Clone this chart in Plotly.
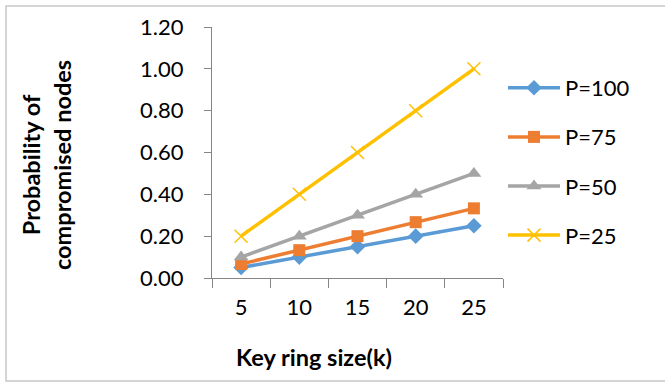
import plotly.graph_objects as go

# Key ring sizes and probability of compromised nodes per P value
key_ring = ["5", "10", "15", "20", "25"]
p100 = [0.05, 0.10, 0.15, 0.20, 0.25]
p75 = [0.067, 0.133, 0.20, 0.267, 0.333]
p50 = [0.10, 0.20, 0.30, 0.40, 0.50]
p25 = [0.20, 0.40, 0.60, 0.80, 1.00]
y_ticks = [0.0, 0.2, 0.4, 0.6, 0.8, 1.0, 1.2]
y_tick_text = ["0.00", "0.20", "0.40", "0.60", "0.80", "1.00", "1.20"]

W, H = 665, 383
ML, MR, MT, MB = 212, 162, 27, 105
PW, PH = W - ML - MR, H - MT - MB

series = [
    ("P=100", p100, "#5B9BD5", "diamond", 12, 0),
    ("P=75", p75, "#ED7D31", "square", 12, 0),
    ("P=50", p50, "#A5A5A5", "triangle-up", 13, 0),
    ("P=25", p25, "#FFC000", "x-thin", 13, 1.5),
]

fig = go.Figure()
for i, (name, vals, color, sym, size, mlw) in enumerate(series):
    fig.add_trace(go.Scatter(
        x=key_ring, y=vals, name=name, mode="lines+markers",
        line=dict(color=color, width=3.5),
        marker=dict(symbol=sym, size=size, color=color,
                    line=dict(color=color, width=mlw)),
        legendgroup=f"g{i}",
    ))

axis_col = "#868686"
font_family = "Lato, Open Sans, sans-serif"

fig.update_layout(
    width=W, height=H,
    margin=dict(l=ML, r=MR, t=MT, b=MB),
    paper_bgcolor="white", plot_bgcolor="white",
    font=dict(family=font_family, color="black"),
    showlegend=True,
    legend=dict(
        x=(503 - ML) / PW, y=(H - 67 - MB) / PH, xanchor="left", yanchor="top",
        font=dict(size=22, family=font_family, color="black"),
        tracegroupgap=17.5, itemwidth=52, bgcolor="rgba(0,0,0,0)",
    ),
    xaxis=dict(
        type="category", showgrid=False, zeroline=False,
        showline=True, linecolor=axis_col, linewidth=1,
        ticks="outside", tickson="boundaries", ticklen=9, tickcolor=axis_col,
        tickfont=dict(size=22, family=font_family), ticklabelstandoff=10,
        range=[-0.5, 4.5],
    ),
    yaxis=dict(
        range=[0, 1.2], tickvals=y_ticks, ticktext=y_tick_text,
        showgrid=False, zeroline=False,
        showline=True, linecolor=axis_col, linewidth=1,
        ticks="outside", ticklen=7, tickcolor=axis_col,
        tickfont=dict(size=22, family=font_family), ticklabelstandoff=16,
    ),
    annotations=[
        dict(text="<b>Probability of<br>compromised nodes</b>", textangle=-90,
             xref="paper", yref="paper",
             x=(46 - ML) / PW, y=(H - MB - 165) / PH,
             xanchor="center", yanchor="middle", showarrow=False,
             font=dict(size=23.5, family=font_family, color="black")),
        dict(text="<b>Key ring size(k)</b>",
             xref="paper", yref="paper",
             x=(314 - ML) / PW, y=-(357 - (H - MB)) / PH,
             xanchor="center", yanchor="middle", showarrow=False,
             font=dict(size=23.5, family=font_family, color="black")),
    ],
    shapes=[
        dict(type="rect", xref="paper", yref="paper",
             x0=(6 - ML) / PW, x1=(W + 5 - ML) / PW,
             y0=(H - MB - 381) / PH, y1=(H - MB - 6) / PH,
             line=dict(color="#C8C8C8", width=1.5), layer="below"),
    ],
)

fig.write_html("out.html")
